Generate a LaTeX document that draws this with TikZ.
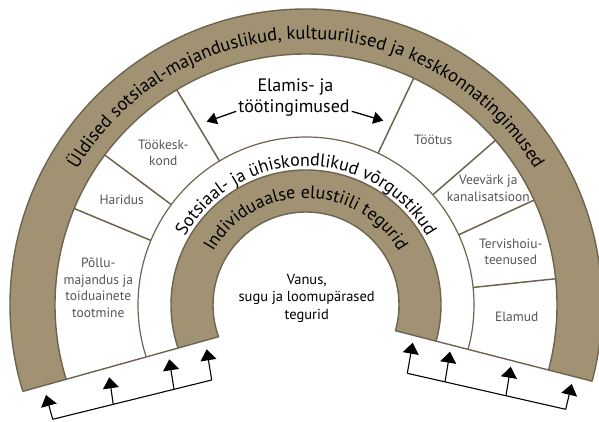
\documentclass[tikz,border=0pt]{standalone}
\usepackage{fontspec}
\setmainfont{PT Sans}
\usetikzlibrary{decorations.text,arrows.meta,calc}
\definecolor{band}{RGB}{160,146,114}
\definecolor{edge}{RGB}{110,100,78}
\definecolor{graytext}{RGB}{85,85,85}
\newcommand\myarcfont{\fontsize{18.5}{18.5}\selectfont}
\newcommand\myinnerfont{\fontsize{18}{18}\selectfont}
\tikzset{
  ringline/.style={draw=edge, line width=1.4pt},
  divider/.style={draw=edge, line width=1.5pt},
  seg/.style={font=\fontsize{13.5}{16.5}\selectfont, text=graytext, align=center, inner sep=0pt},
  bigtext/.style={font=\fontsize{18}{22}\selectfont, align=center, inner sep=0pt},
  centerlabel/.style={font=\fontsize{14.5}{17.5}\selectfont, align=center, inner sep=0pt},
  bracket/.style={draw=black, line width=1.1pt},
  uparrow/.style={draw=black, line width=1.1pt, -{Triangle[length=11pt,width=16pt]}},
  sidearrow/.style={draw=black, line width=1.3pt, -{Triangle[length=10pt,width=12pt]}}
}
\begin{document}
\begin{tikzpicture}[x=1pt,y=1pt]
\useasboundingbox (-306,-116) rectangle (293,305);
\coordinate (C) at (0,0);
% rings
\begin{scope}
  \clip (-322.8,-97.5) -- (8.66,-4.96) -- (326.7,-86.65) -- (326.7,320) -- (-322.8,320) -- cycle;
  \fill[band, even odd rule] (C) circle[radius=296pt] (C) circle[radius=251pt];
  \draw[ringline] (C) circle[radius=296pt];
  \draw[ringline] (C) circle[radius=251pt];
  \draw[edge, line width=1.2pt] (C) circle[radius=168pt];
  \fill[band, even odd rule] (C) circle[radius=135pt] (C) circle[radius=93pt];
  \draw[ringline] (C) circle[radius=135pt];
  \draw[ringline] (C) circle[radius=93pt];
\end{scope}
% bottom edges
\coordinate (LO) at (-283.0,-86.35);
\coordinate (LI) at (-87.3,-31.7);
\coordinate (RO) at (286.1,-76.2);
\coordinate (RI) at (89.4,-25.7);
\draw[ringline] (LO) -- (LI);
\draw[ringline] (RO) -- (RI);
% dividers
\foreach \a in {121,143.3,157.4,64.6,41,24.7,6}
  \draw[divider] (\a:168pt) -- (\a:251pt);
% arc texts
\path[decorate, decoration={text along path, text align=center,
  text={|\myarcfont|Üldised sotsiaal-majanduslikud, kultuurilised ja keskkonnatingimused}}]
  (180:266pt) arc[start angle=180, end angle=0, radius=266pt];
\path[decorate, decoration={text along path, text align=center,
  text={|\myinnerfont|Sotsiaal- ja ühiskondlikud võrgustikud}}]
  (180:139pt) arc[start angle=180, end angle=0, radius=139pt];
\path[decorate, decoration={text along path, text align=center,
  text={|\myinnerfont|Individuaalse elustiili tegurid}}]
  (180:107pt) arc[start angle=180, end angle=0, radius=107pt];
% segment labels
\node[seg] (pollu) at (-207.7,17.3) {Põllu-\\majandus ja\\toiduainete\\tootmine};
\node[seg] (haridus) at (-184.3,105) {Haridus};
\node[seg] (tookesk) at (-142.7,152) {Töökesk-\\kond};
\node[seg] (tootus) at (127.3,165) {Töötus};
\node[seg] (veevark) at (182.3,116.7) {Veevärk ja\\kanalisatsioon};
\node[seg] (tervis) at (204.8,53.3) {Tervishoiu-\\teenused};
\node[seg] (elamud) at (210.7,-11.7) {Elamud};
\node[centerlabel] (vanus) at (0.7,7) {Vanus,\\sugu ja loomupärased\\tegurid};
% Elamis- ja töötingimused
\node[bigtext] (elamis1) at (-10.5,218.3) {Elamis- ja};
\node[bigtext] (elamis2) at (-12,196.7) {töötingimused};
\coordinate (elL) at (-99.3,183.3);
\coordinate (elR) at (77.3,184.3);
\draw[sidearrow] ([xshift=-2pt,yshift=-3pt]elamis2.west) -- (elL);
\draw[sidearrow] ([xshift=2pt,yshift=-3pt]elamis2.east) -- (elR);
% left bracket
\coordinate (LB1) at (-253.3,-114.3);
\coordinate (LB4) at (-94.3,-75);
\coordinate (LB2) at ($(LB1)!0.381!(LB4)$);
\coordinate (LB3) at ($(LB1)!0.763!(LB4)$);
\coordinate (LT1) at (-260,-90);
\coordinate (LT2) at (-196.7,-72.3);
\coordinate (LT3) at (-136.7,-54.3);
\coordinate (LT4) at (-99.3,-44.3);
\draw[bracket] (LB1) -- (LB4);
\foreach \i in {1,2,3,4} \draw[uparrow] (LB\i) -- (LT\i);
% right bracket
\coordinate (RB1) at (101.3,-68.3);
\coordinate (RB4) at (259.7,-104.3);
\coordinate (RB2) at ($(RB1)!0.238!(RB4)$);
\coordinate (RB3) at ($(RB1)!0.623!(RB4)$);
\coordinate (RT1) at (106.7,-37.7);
\coordinate (RT2) at (144,-46.7);
\coordinate (RT3) at (204.7,-61.7);
\coordinate (RT4) at (265.7,-79);
\draw[bracket] (RB1) -- (RB4);
\foreach \i in {1,2,3,4} \draw[uparrow] (RB\i) -- (RT\i);
\end{tikzpicture}
\end{document}
